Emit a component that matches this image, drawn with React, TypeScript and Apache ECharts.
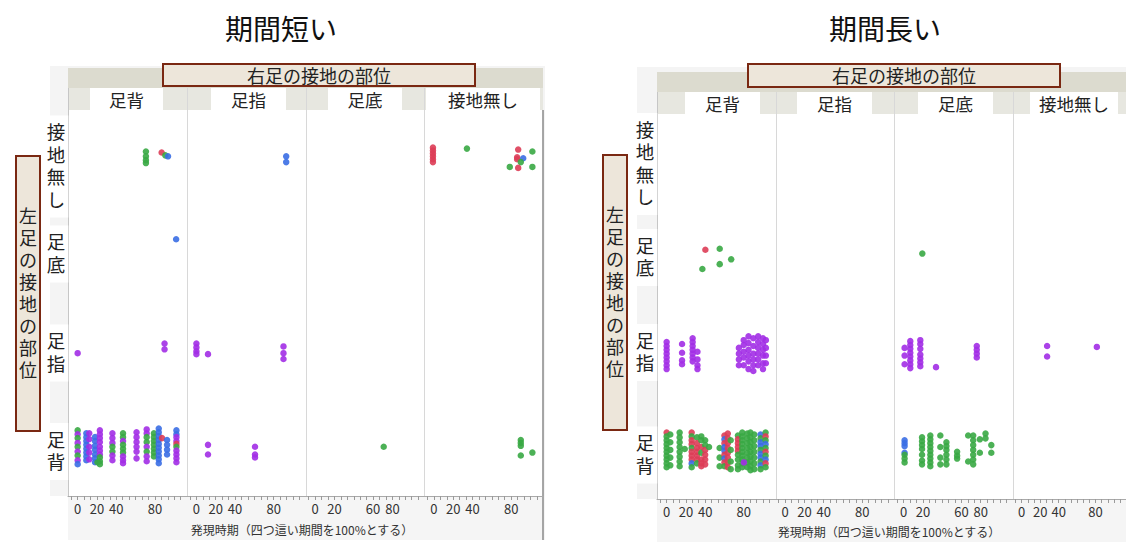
import React, { useEffect, useRef } from "react";
import * as echarts from "echarts";

type Pt = [number, number, string]; // [発現時期 %, vertical jitter, group]

const FONT = "'Noto Sans CJK JP', 'Noto Sans', sans-serif";
// stacked (one glyph per line) labels: compact Latin metrics first, CJK glyphs come from the fallback
const FONT_STACKED = "'DejaVu Sans', 'Noto Sans CJK JP', sans-serif";

const ROW_NAMES = ["足背", "足指", "足底", "接地無し"]; // left foot, bottom to top
const COL_NAMES = ["足背", "足指", "足底", "接地無し"]; // right foot, left to right
const X_TICKS = [-6.67, 0, 6.67, 13.33, 20, 26.67, 33.33, 40, 46.67, 53.33, 60, 66.67, 73.33, 80, 86.67, 93.33, 100, 106.67];
const X_LABELS = [0, 20, 40, 80];
const X_LABELS_SOLE = [0, 20, 60, 80];
const X_TITLE = "発現時期（四つ這い期間を100%とする）";
const GROUP_COLORS: Record<string, string> = { G: "#38a844", R: "#dd3d56", B: "#3a6ee4", P: "#a22ee6" };

// ---- 期間短い ----
const sDorNone: Pt[] = [[70.7, 7, "G"], [70.7, 2, "G"], [70.7, -2, "G"], [70.7, -5, "G"], [87, 6, "R"], [90.8, 3, "G"], [93.6, 2, "B"]];
const sDorSole: Pt[] = [[102, 16, "B"]];
const sDorToe: Pt[] = [[0, -2, "P"], [90, 8, "P"], [90, 2, "P"]];
const sDorDor: Pt[] = [
  [0, 18, "G"], [0, 14, "P"], [0, 10, "G"], [0, 5, "P"], [0, 1, "G"], [0, -4, "P"], [0, -8, "G"], [0, -13, "P"], [0, -17, "B"],
  [9, 15, "B"], [9, 11, "B"], [9, 7, "B"], [9, 3, "B"], [9, -1, "B"], [9, -5, "B"], [9, -9, "B"], [9, -13, "B"],
  [12, 15, "P"], [12, 9, "P"], [12, 1, "P"], [12, -5, "P"], [12, -12, "P"],
  [18, 11, "B"], [18, 7, "B"], [18, 2, "B"], [18, -2, "B"], [18, -7, "B"], [18, -11, "B"], [18, -15, "B"],
  [20.5, -15, "G"],
  [23, 18, "P"], [23, 14, "P"], [23, 10, "P"], [23, 6, "P"], [23, 1, "P"], [23, -3, "P"], [23, -7, "P"], [23, -10, "G"], [23, -14, "G"], [23, -17, "G"],
  [36, 15, "P"], [36, 10, "P"], [36, 5, "P"], [36, 1, "G"], [36, -4, "G"], [36, -8, "P"], [36, -13, "P"],
  [47, 15, "G"], [47, 11, "G"], [47, 7, "P"], [47, 3, "G"], [47, -1, "G"], [47, -5, "G"], [47, -9, "P"], [47, -13, "P"], [47, -16, "P"],
  [61, 16, "P"], [61, 11, "P"], [61, 6, "P"], [61, 1, "P"], [61, -4, "P"], [61, -11, "P"],
  [71.5, 19, "P"], [71.5, 15, "P"], [71.5, 11, "G"], [71.5, 6, "G"], [71.5, 1, "P"], [71.5, -4, "G"], [71.5, -9, "P"], [71.5, -14, "P"],
  [79, 15, "G"], [79, 11, "G"], [79, 7, "G"], [79, 3, "G"], [79, -1, "G"], [79, -5, "G"], [79, -9, "G"],
  [84, 20, "B"], [84, 16, "B"], [84, 12, "B"], [84, 8, "B"], [84, 4, "B"], [84, 0, "B"], [84, -4, "B"], [84, -8, "B"], [84, -12, "B"], [84, -16, "B"],
  [87.4, 10, "R"],
  [92.6, 8, "B"], [92.6, 3, "B"], [92.6, -2, "B"], [92.6, -7, "B"],
  [102.3, 18, "B"], [102.3, 14, "B"], [102.3, 11, "P"], [102.3, 7, "P"], [102.3, 4, "R"], [102.3, 1, "G"], [102.3, -3, "P"], [102.3, -7, "P"], [102.3, -11, "P"], [102.3, -15, "P"],
];
const sToeNone: Pt[] = [[93, 2, "B"], [93, -4, "B"]];
const sToeToe: Pt[] = [[0, 8, "P"], [0, 4, "P"], [0, 0, "P"], [0, -3, "P"], [12, -3, "P"], [90.2, 5, "P"], [90.2, -2, "P"], [90.2, -8, "P"]];
const sToeDor: Pt[] = [[12, 3, "P"], [12, -7, "P"], [60.7, 1, "P"], [60.7, -7, "P"], [60.7, -10, "P"]];
const sSoleDor: Pt[] = [[71, 1, "G"]];
const sNoneNone: Pt[] = [
  [-1, 11, "R"], [-1, 8, "R"], [-1, 5, "R"], [-1, 2, "R"], [-1, -1, "R"], [-1, -4, "R"],
  [34.2, 10, "G"], [87.3, 9, "R"], [86.2, 1, "R"], [86.2, -1, "R"], [92.5, 0, "B"], [90, -4, "G"],
  [102, 7, "G"], [78.6, -9, "G"], [87.3, -10, "R"], [102, -9, "G"],
];
const sNoneDor: Pt[] = [[90, 8, "G"], [90, 5, "G"], [90, 2, "G"], [90, -8, "G"], [102, -5, "G"]];

// ---- 期間長い ----
const lDorSole: Pt[] = [[40.2, 9, "R"], [55.1, 10, "G"], [67, -1, "G"], [55.1, -6, "G"], [37.1, -11, "G"]];
const lDorToe: Pt[] = [
  [0, 13, "P"], [0, 9, "P"], [0, 5, "P"], [0, 1, "P"], [0, -3, "P"], [0, -7, "P"], [0, -11, "P"], [0, -15, "P"],
  [16, 11, "P"], [16, 2, "P"], [16, -6, "P"], [16, -10, "P"],
  [27, 17, "P"], [27, 13, "P"], [27, 9, "P"], [27, 5, "P"], [27, 1, "P"], [27, -3, "P"], [27, -7, "P"],
  [32, 3, "P"], [32, -5, "P"], [32, -11, "P"], [32, -15, "P"],
  [75, 7, "P"], [75, 1, "P"], [75, -5, "P"], [75, -11, "P"],
  [80, 15, "P"], [80, 10, "P"], [80, 3, "P"], [80, -3, "P"], [80, -11, "P"],
  [85, 19, "P"], [85, 12, "P"], [85, 5, "P"], [85, -1, "P"], [85, -7, "P"], [85, -15, "P"],
  [90, 17, "P"], [90, 9, "P"], [90, 1, "P"], [90, -5, "P"], [90, -11, "P"], [90, -17, "P"],
  [95, 19, "P"], [95, 13, "P"], [95, 7, "P"], [95, 1, "P"], [95, -5, "P"], [95, -11, "P"],
  [100, 17, "P"], [100, 11, "P"], [100, 5, "P"], [100, -1, "P"], [100, -9, "P"], [100, -15, "P"],
  [103, 15, "P"], [103, 7, "P"], [103, -1, "P"], [103, -9, "P"],
];
const lDorDor: Pt[] = [
  [0, 19, "R"], [0, 15, "G"], [0, 11, "G"], [0, 7, "G"], [0, 3, "G"], [0, -1, "G"], [0, -5, "G"], [0, -9, "G"], [0, -13, "G"], [0, -17, "G"],
  [3.8, 17, "G"], [3.8, 9, "G"], [3.8, 1, "G"], [3.8, -7, "G"], [3.8, -15, "G"],
  [13.5, 19, "G"], [13.5, 14, "G"], [13.5, 9, "G"], [13.5, 4, "G"], [13.5, -1, "G"], [13.5, -6, "G"], [13.5, -11, "G"], [13.5, -16, "G"],
  [18.8, 2, "G"],
  [26, 19, "R"], [26, 15, "G"], [26, 11, "R"], [26, 7, "R"], [26, 3, "G"], [26, -1, "R"], [26, -5, "R"], [26, -9, "R"], [26, -13, "B"], [26, -17, "G"],
  [31.5, 14, "G"], [31.5, 8, "R"], [31.5, 3, "R"], [31.5, -1, "R"], [31.5, -5, "R"], [31.5, -9, "R"], [31.5, -13, "G"],
  [36, 15, "G"], [36, 11, "G"], [36, 4, "R"], [36, -2, "G"], [36, -9, "R"], [36, -13, "R"], [36, -16, "R"],
  [40, 11, "G"], [40, 6, "G"], [40, 1, "R"], [40, -4, "R"], [40, -9, "R"], [40, -14, "R"],
  [44, 4, "G"],
  [55, 3, "G"], [55, -7, "G"], [55, -16, "G"],
  [60, 16, "R"], [60, 12, "B"], [60, 8, "R"], [60, 4, "B"], [60, 0, "B"], [60, -4, "R"], [60, -8, "B"], [60, -12, "R"], [60, -16, "G"],
  [63.5, 18, "R"], [63.5, 13, "R"], [63.5, 8, "R"], [63.5, 3, "R"], [63.5, -2, "R"], [63.5, -7, "R"], [63.5, -12, "R"], [63.5, -17, "R"],
  [66.5, 11, "G"], [66.5, 1, "G"], [66.5, -11, "G"], [66.5, -19, "G"],
  [74, 16, "G"], [74, 12, "R"], [74, 8, "R"], [74, 4, "R"], [74, 0, "R"], [74, -4, "G"], [74, -9, "G"], [74, -15, "G"], [74, -19, "G"],
  [78.5, 19, "G"], [78.5, 15, "G"], [78.5, 11, "G"], [78.5, 7, "G"], [78.5, 3, "G"], [78.5, -1, "G"], [78.5, -5, "G"], [78.5, -9, "G"], [78.5, -13, "G"], [78.5, -17, "G"],
  [83.7, 18, "G"], [83.7, 13, "G"], [83.7, 8, "G"], [83.7, 3, "G"], [83.7, -2, "G"], [83.7, -7, "G"], [83.7, -12, "G"], [83.7, -17, "G"],
  [87, 19, "G"], [87, 14, "G"], [87, 9, "G"], [87, 4, "G"], [87, -1, "G"], [87, -6, "G"], [87, -11, "G"], [87, -16, "G"], [87, -20, "G"],
  [91, 17, "G"], [91, 11, "G"], [91, 5, "G"], [91, -1, "G"], [91, -7, "G"], [91, -13, "G"], [91, -19, "G"],
  [97.5, 17, "B"], [97.5, 13, "G"], [97.5, 9, "B"], [97.5, 5, "B"], [97.5, 1, "G"], [97.5, -3, "B"], [97.5, -7, "B"], [97.5, -11, "G"], [97.5, -15, "B"], [97.5, -19, "G"],
  [102.7, 19, "G"], [102.7, 15, "R"], [102.7, 11, "G"], [102.7, 7, "B"], [102.7, 3, "G"], [102.7, -1, "R"], [102.7, -5, "G"], [102.7, -9, "B"], [102.7, -13, "R"], [102.7, -17, "G"],
  [80.2, -12, "P"],
];
const lSoleSole: Pt[] = [[19.4, 5, "G"]];
const lSoleToe: Pt[] = [
  [1, 7, "P"], [1, -1, "P"], [1, -10, "P"],
  [6.9, 14, "P"], [6.9, 10, "P"], [6.9, 6, "P"], [6.9, 2, "P"], [6.9, -2, "P"], [6.9, -6, "P"], [6.9, -10, "P"], [6.9, -14, "P"],
  [17.3, 15, "P"], [17.3, 11, "P"], [17.3, 6, "P"], [17.3, 0, "P"], [17.3, -4, "P"], [17.3, -8, "P"], [17.3, -12, "P"],
  [33.6, -13, "P"],
  [75.9, 9, "P"], [75.9, 5, "P"], [75.9, 1, "P"], [75.9, -3, "P"],
];
const lSoleDor: Pt[] = [
  [1, 11, "B"], [1, 8, "B"], [1, 5, "B"], [1, -2, "B"], [1, -4, "G"], [1, -8, "G"], [1, -12, "G"],
  [19.1, 14, "G"], [19.1, 10, "G"], [19.1, 6, "G"], [19.1, 2, "G"], [19.1, -4, "G"], [19.1, -10, "G"], [19.1, -14, "G"],
  [27.7, 16, "G"], [27.7, 12, "G"], [27.7, 8, "G"], [27.7, 4, "G"], [27.7, 0, "G"], [27.7, -4, "G"], [27.7, -8, "G"], [27.7, -12, "G"], [27.7, -16, "G"],
  [38.1, 16, "G"], [38.1, 4, "G"], [38.1, -7, "G"], [38.1, -14, "G"],
  [44.4, 9, "G"], [44.4, 5, "G"], [44.4, 1, "G"], [44.4, -4, "G"], [44.4, -9, "G"], [44.4, -14, "G"],
  [55.5, -1, "G"], [55.5, -5, "G"], [55.5, -8, "G"],
  [67, 16, "G"], [67, -11, "G"],
  [72.2, 16, "G"], [72.2, 11, "G"], [72.2, 6, "G"], [72.2, 1, "G"], [72.2, -4, "G"], [72.2, -9, "G"], [72.2, -14, "G"],
  [79.1, 12, "G"], [79.1, -2, "G"],
  [85, 18, "G"], [85, 13, "G"],
  [91, 6, "G"], [91, -2, "G"],
];
const lNoneToe: Pt[] = [[27.5, 9, "P"], [27.5, -2, "P"], [81.4, 8, "P"]];

type Facet = { col: number; row: number; pts: Pt[] };
const shortFacets: Facet[] = [
  { col: 0, row: 3, pts: sDorNone }, { col: 0, row: 2, pts: sDorSole }, { col: 0, row: 1, pts: sDorToe }, { col: 0, row: 0, pts: sDorDor },
  { col: 1, row: 3, pts: sToeNone }, { col: 1, row: 1, pts: sToeToe }, { col: 1, row: 0, pts: sToeDor },
  { col: 2, row: 0, pts: sSoleDor },
  { col: 3, row: 3, pts: sNoneNone }, { col: 3, row: 0, pts: sNoneDor },
];
const longFacets: Facet[] = [
  { col: 0, row: 2, pts: lDorSole }, { col: 0, row: 1, pts: lDorToe }, { col: 0, row: 0, pts: lDorDor },
  { col: 2, row: 2, pts: lSoleSole }, { col: 2, row: 1, pts: lSoleToe }, { col: 2, row: 0, pts: lSoleDor },
  { col: 3, row: 1, pts: lNoneToe },
];

type Panel = {
  title: string; titleX: number; facets: Facet[];
  left: number; top: number; colW: number; h: number;
  frameL: number; frameTop: number; stripTop: number; bottom: number;
  tabs: number[][]; labelX: number; rowLabelY: number[];
  hdrBox: number[]; vBox: number[]; axisTitleX: number; axisTitleY: number; edge: boolean;
};

const PANELS: Panel[] = [
  {
    title: "期間短い", titleX: 281, facets: shortFacets,
    left: 68, top: 110, colW: 118.75, h: 386,
    frameL: 50, frameTop: 66, stripTop: 68, bottom: 540,
    tabs: [[90, 163], [211, 286], [328, 402], [426, 540]],
    labelX: 56, rowLabelY: [451.5, 353, 254, 166.5],
    hdrBox: [163, 64, 312, 22], vBox: [16, 156, 24, 275],
    axisTitleX: 302, axisTitleY: 529, edge: true,
  },
  {
    title: "期間長い", titleX: 885, facets: longFacets,
    left: 657, top: 114, colW: 118.5, h: 385,
    frameL: 637, frameTop: 67, stripTop: 72, bottom: 542,
    tabs: [[685, 760], [797, 872], [918, 993], [1030, 1118]],
    labelX: 645, rowLabelY: [455, 352.5, 257.5, 164],
    hdrBox: [748, 64, 312, 23], vBox: [603, 155, 24, 275],
    axisTitleX: 889, axisTitleY: 531, edge: false,
  },
];

function rect(x: number, y: number, w: number, h: number, fill: string, z: number, stroke?: string, lw?: number) {
  return {
    type: "rect", z, silent: true,
    shape: { x, y, width: w, height: h },
    style: stroke ? { fill, stroke, lineWidth: lw } : { fill },
  };
}
function line(x1: number, y1: number, x2: number, y2: number, color: string, z: number, lw = 1) {
  return { type: "line", z, silent: true, shape: { x1, y1, x2, y2 }, style: { stroke: color, lineWidth: lw } };
}
function text(x: number, y: number, t: string, size: number, z: number, extra: Record<string, unknown> = {}) {
  return {
    type: "text", z, silent: true, x, y,
    style: { text: t, fontSize: size, fontFamily: FONT, fill: "#222", align: "center", verticalAlign: "middle", ...extra },
  };
}

function panelGraphics(p: Panel) {
  const right = p.left + 4 * p.colW;
  const stripBottom = p.stripTop + 20;
  const plotBottom = p.top + p.h;
  const els: unknown[] = [];
  // frame backgrounds
  els.push(rect(p.frameL, p.frameTop, Math.min(right, 1126) - p.frameL + 2, plotBottom - p.frameTop, "#f4f4f4", -30));
  els.push(rect(p.left, plotBottom, Math.min(right, 1126) - p.left + 2, p.bottom - plotBottom, "#f5f5f5", -30));
  // facet header strip and tab row
  els.push(rect(p.left, p.stripTop, right - p.left, 20, "#dcdbcf", -25));
  els.push(rect(p.left, stripBottom, right - p.left, p.top - stripBottom, "#e7e7e0", -25));
  p.tabs.forEach(([a, b]) => els.push(rect(a, stripBottom, b - a, p.top - stripBottom + 1, "#ffffff", -24)));
  // plot area
  els.push(rect(p.left, p.top, right - p.left, p.h, "#ffffff", -24));
  // column separators
  els.push(line(p.left + 0.5, stripBottom, p.left + 0.5, plotBottom, "#c6c6c6", -20));
  for (let c = 1; c < 4; c++) {
    const x = Math.round(p.left + c * p.colW) + 0.5;
    els.push(line(x, stripBottom, x, plotBottom, "#d8d8d8", -20));
  }
  if (p.edge) els.push(line(right, p.top, right, p.bottom, "#8a8a8a", -20, 1.5));
  // column headers
  COL_NAMES.forEach((name, c) => {
    const [a, b] = p.tabs[c];
    els.push(text((a + b) / 2, (stripBottom + p.top) / 2, name, 17.5, 10));
  });
  // row labels (left foot)
  ROW_NAMES.forEach((name, r) => {
    els.push(text(p.labelX, p.rowLabelY[r], name.split("").join("\n"), 18.5, 10, {
      fontFamily: FONT_STACKED, lineHeight: 22.5, backgroundColor: "#ffffff", padding: [6, 3],
    }));
  });
  // right-foot header box
  const [hx, hy, hw, hh] = p.hdrBox;
  els.push(rect(hx, hy, hw, hh, "#ede6da", 5, "#7a2812", 2));
  els.push(text(hx + hw / 2, hy + hh / 2 - 0.5, "右足の接地の部位", 18, 10));
  // left-foot header box (vertical)
  const [vx, vy, vw, vh] = p.vBox;
  els.push(rect(vx, vy, vw, vh, "#ede6da", 5, "#7a2812", 2));
  els.push(text(vx + vw / 2, vy + vh / 2, "左足の接地の部位".split("").join("\n"), 18, 10, {
    fontFamily: FONT_STACKED, lineHeight: 22,
  }));
  // titles
  els.push(text(p.titleX, 28, p.title, 28, 10, { fill: "#111" }));
  els.push(text(p.axisTitleX, p.axisTitleY, X_TITLE, 12, 10, { fill: "#333" }));
  return els;
}

function buildOption() {
  const grid: unknown[] = [];
  const xAxis: unknown[] = [];
  const yAxis: unknown[] = [];
  const series: unknown[] = [];
  const graphic: unknown[] = [];

  PANELS.forEach((p, pi) => {
    graphic.push(...panelGraphics(p));
    for (let c = 0; c < 4; c++) {
      const gi = pi * 4 + c;
      grid.push({ left: p.left + c * p.colW, top: p.top, width: p.colW, height: p.h, show: false, containLabel: false });
      xAxis.push({
        gridIndex: gi, type: "value", min: -10, max: 113,
        axisLine: { show: true, onZero: false, lineStyle: { color: "#a9a9a9", width: 1 } },
        axisTick: { show: true, customValues: X_TICKS, length: 4, lineStyle: { color: "#9a9a9a" } },
        axisLabel: {
          show: true, customValues: c === 2 ? X_LABELS_SOLE : X_LABELS,
          color: "#333", fontSize: 13, margin: 6, fontFamily: FONT,
        },
        splitLine: { show: false },
      });
      yAxis.push({ gridIndex: gi, type: "value", min: 0, max: 400, show: false });
      const data = p.facets
        .filter((f) => f.col === c)
        .flatMap((f) =>
          f.pts.map(([x, j, g]) => ({
            value: [x, f.row * 100 + 50 + j],
            itemStyle: { color: GROUP_COLORS[g] },
          }))
        );
      series.push({
        type: "scatter", xAxisIndex: gi, yAxisIndex: gi, symbolSize: 6.5, silent: true,
        itemStyle: { opacity: 0.9 }, data,
      });
    }
  });

  return {
    animation: false,
    backgroundColor: "#ffffff",
    grid, xAxis, yAxis, series, graphic,
  };
}

export default function App() {
  const ref = useRef<HTMLDivElement>(null);
  useEffect(() => {
    if (!ref.current) return;
    const chart = echarts.init(ref.current, null, { renderer: "svg" });
    chart.setOption(buildOption() as echarts.EChartsOption);
    return () => chart.dispose();
  }, []);
  return (
    <div
      ref={ref}
      style={{ position: "absolute", left: 0, top: 0, width: 1126, height: 542, background: "#fff" }}
    />
  );
}
